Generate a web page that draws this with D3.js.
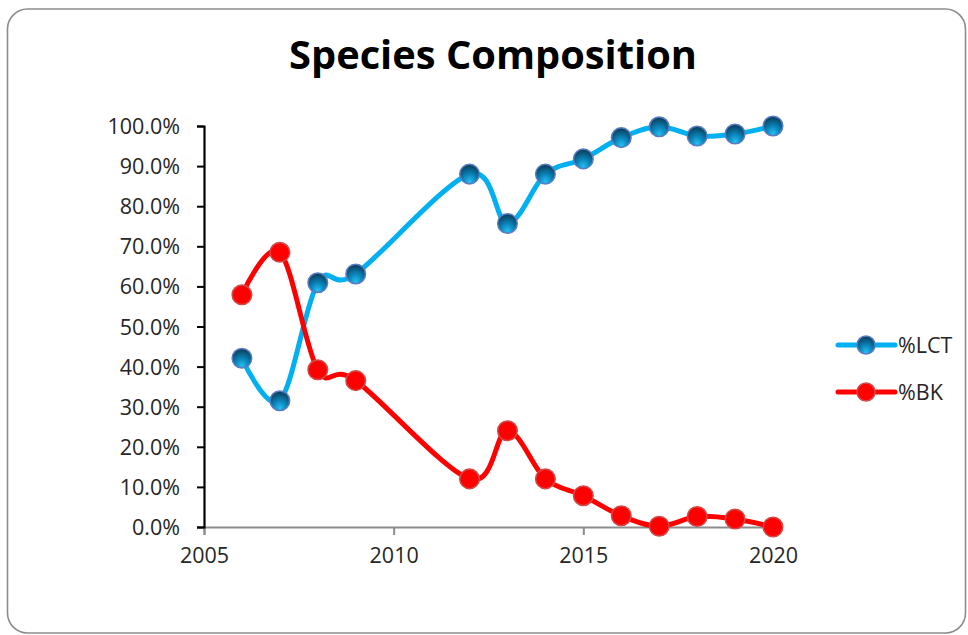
<!DOCTYPE html>
<html><head><meta charset="utf-8">
<script src="https://cdn.jsdelivr.net/npm/d3@7"></script>
<style>
html,body{margin:0;padding:0;background:#fff;}
svg{display:block;}
text{font-family:"Open Sans","Noto Sans",sans-serif;fill:#262626;}
</style></head>
<body>
<svg id="chart" width="968" height="635"></svg>
<script>
const years = [2006, 2007, 2008, 2009, 2012, 2013, 2014, 2015, 2016, 2017, 2018, 2019, 2020];
const lctValues = [0.421, 0.315, 0.609, 0.631, 0.880, 0.757, 0.880, 0.918, 0.971, 0.998, 0.975, 0.980, 1.000];
const bkValues  = [0.579, 0.685, 0.392, 0.365, 0.120, 0.240, 0.120, 0.078, 0.028, 0.002, 0.026, 0.020, 0.000];
const seriesNames = ["%LCT", "%BK"];
const xTicks = [2005, 2010, 2015, 2020];
const yTicks = [0, 0.1, 0.2, 0.3, 0.4, 0.5, 0.6, 0.7, 0.8, 0.9, 1.0];
const titleText = "Species Composition";

const svg = d3.select("#chart");
const defs = svg.append("defs");

// frame
svg.append("rect").attr("x", 7.5).attr("y", 9).attr("width", 958).attr("height", 624)
  .attr("rx", 20).attr("ry", 20).attr("fill", "#fff").attr("stroke", "#8c8c8c").attr("stroke-width", 1.6);

// title (font size fitted to the reference width)
const title = svg.append("text").attr("x", 493).attr("y", 69).attr("text-anchor", "middle")
  .attr("font-weight", "bold").attr("font-size", 34).style("fill", "#000").text(titleText);
const tw = title.node().getComputedTextLength();
title.attr("font-size", 34 * 408 / tw);

const x = d3.scaleLinear().domain([2005, 2020]).range([204, 773]);
const y = d3.scaleLinear().domain([0, 1]).range([527, 126]);

// gradients
const gB = defs.append("radialGradient").attr("id", "gBlue").attr("cx", "50%").attr("cy", "75%").attr("r", "70%").attr("fx", "50%").attr("fy", "90%");
gB.append("stop").attr("offset", "0%").attr("stop-color", "#27c0f5");
gB.append("stop").attr("offset", "45%").attr("stop-color", "#0a86bb");
gB.append("stop").attr("offset", "100%").attr("stop-color", "#0a3f5e");
const gR = defs.append("radialGradient").attr("id", "gRed").attr("cx", "50%").attr("cy", "50%").attr("r", "60%");
gR.append("stop").attr("offset", "0%").attr("stop-color", "#ff0000");
gR.append("stop").attr("offset", "80%").attr("stop-color", "#ff0000");
gR.append("stop").attr("offset", "100%").attr("stop-color", "#f00a0a");

const fs = 21.5;

// axes
const yAxis = svg.append("g").attr("transform", `translate(${x(2005)},0)`)
  .call(d3.axisLeft(y).tickValues(yTicks).tickFormat(d3.format(".1%")).tickSize(7).tickPadding(17));
yAxis.select(".domain").attr("stroke", "#000").attr("stroke-width", 2.2);
yAxis.selectAll(".tick line").attr("stroke", "#000").attr("stroke-width", 2);
yAxis.selectAll("text").attr("font-size", fs).style("fill", "#262626").attr("dy", "0.35em");

const xAxis = svg.append("g").attr("transform", `translate(0,${y(0)})`)
  .call(d3.axisBottom(x).tickValues(xTicks).tickFormat(d3.format("d")).tickSize(8).tickPadding(13));
xAxis.select(".domain").attr("stroke", "#8c8c8c").attr("stroke-width", 2);
xAxis.selectAll(".tick line").attr("stroke", "#8c8c8c").attr("stroke-width", 2);
xAxis.selectAll("text").attr("font-size", fs).style("fill", "#262626");
yAxis.raise();

const series = [
  { name: seriesNames[0], values: lctValues, color: "#00b0f0", fill: "url(#gBlue)", stroke: "#5b7cc0" },
  { name: seriesNames[1], values: bkValues, color: "#ff0000", fill: "url(#gRed)", stroke: "#d24a4a" }
];

const line = d3.line().x(d => x(d[0])).y(d => y(d[1])).curve(d3.curveCardinal.tension(0));

series.forEach(s => {
  const pts = years.map((yr, i) => [yr, s.values[i]]);
  svg.append("path").datum(pts).attr("d", line).attr("fill", "none")
    .attr("stroke", s.color).attr("stroke-width", 5).attr("stroke-linecap", "round");
});
series.forEach(s => {
  const pts = years.map((yr, i) => [yr, s.values[i]]);
  svg.append("g").selectAll("circle").data(pts).join("circle")
    .attr("cx", d => x(d[0])).attr("cy", d => y(d[1])).attr("r", 9.8)
    .attr("fill", s.fill).attr("stroke", s.stroke).attr("stroke-width", 1.5);
});

// legend
const leg = svg.append("g");
series.forEach((s, i) => {
  const ly = 345 + i * 47;
  leg.append("line").attr("x1", 838).attr("x2", 895).attr("y1", ly).attr("y2", ly)
    .attr("stroke", s.color).attr("stroke-width", 5).attr("stroke-linecap", "round");
  leg.append("circle").attr("cx", 866).attr("cy", ly).attr("r", 9)
    .attr("fill", s.fill).attr("stroke", s.stroke).attr("stroke-width", 1.5);
  leg.append("text").attr("x", 898).attr("y", ly).attr("dy", "0.35em")
    .attr("font-size", fs).text(s.name);
});
</script>
</body></html>
